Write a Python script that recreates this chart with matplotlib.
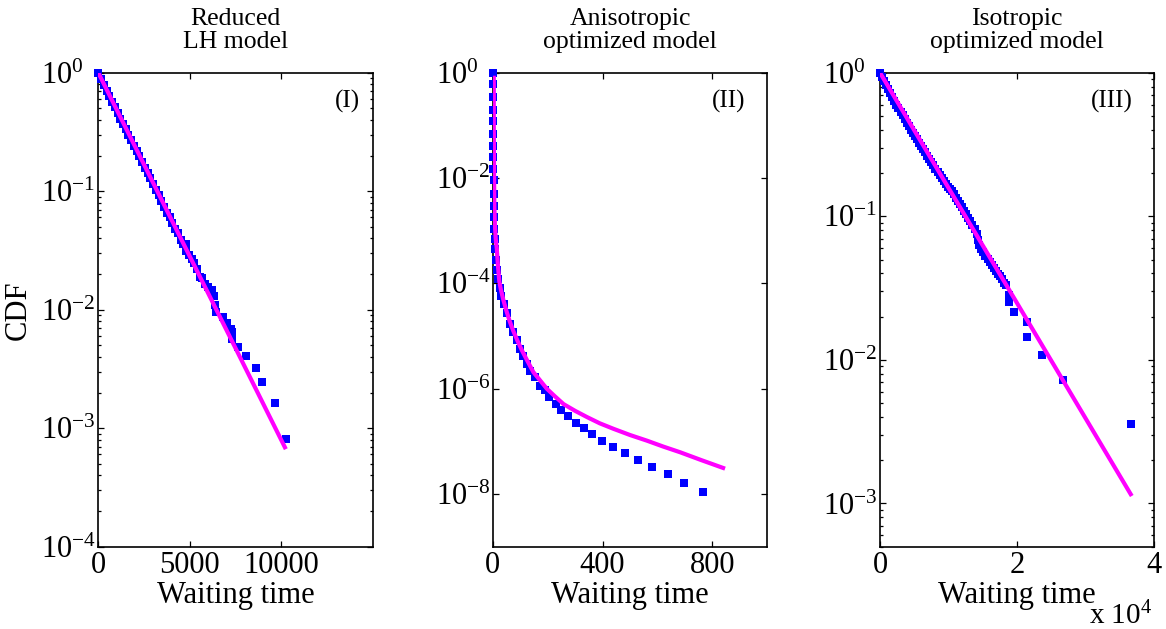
import matplotlib
matplotlib.use("Agg")
import matplotlib.pyplot as plt
from matplotlib.ticker import LogLocator, NullLocator

plt.rcParams["font.family"] = "Liberation Serif"
plt.rcParams["mathtext.fontset"] = "custom"
plt.rcParams["mathtext.rm"] = "Liberation Serif"
plt.rcParams["mathtext.it"] = "Liberation Serif:italic"
plt.rcParams["mathtext.bf"] = "Liberation Serif:bold"

BLUE = "#0000FF"
MAGENTA = "#FF00FF"

# (I) reduced LH model
lh_wait = [0, 150, 300, 450, 600, 750, 900, 1050, 1200, 1350, 1500, 1650, 1800,
           1950, 2100, 2250, 2400, 2550, 2700, 2850, 3000, 3150, 3300, 3450, 3600,
           3750, 3900, 4050, 4200, 4350, 4500, 4650, 4800, 4800, 4950, 5100, 5250,
           5400, 5550, 5650, 5830, 6000, 6200, 6330, 6380, 6450, 6834, 7019, 7240,
           7327, 7327, 7620, 8058, 8622, 8933, 9663, 10262]
lh_cdf = [1.0, 0.88, 0.79, 0.70, 0.63, 0.565, 0.51, 0.455, 0.41, 0.37, 0.335, 0.30,
          0.27, 0.243, 0.22, 0.197, 0.176, 0.158, 0.143, 0.130, 0.116, 0.103, 0.092,
          0.082, 0.074, 0.066, 0.060, 0.054, 0.048, 0.044, 0.039, 0.036, 0.036, 0.031,
          0.029, 0.027, 0.025, 0.022, 0.019, 0.0185, 0.0165, 0.0155, 0.0147, 0.0130,
          0.0110, 0.0096, 0.0087, 0.0077, 0.0069, 0.0065, 0.0057, 0.00487, 0.00404,
          0.00324, 0.00244, 0.00162, 0.000805]
lh_fit_wait = [0, 10200]
lh_fit_cdf = [1.0, 6.9e-4]

# (II) anisotropic optimized model
an_wait = [1, 1, 1, 1, 1, 2, 2, 2, 2, 3, 3, 4, 5, 6, 8, 10, 13, 17, 21, 26, 32, 41,
           51, 63, 75, 88, 100, 112, 124, 136, 154, 172, 190, 206, 230, 248, 275, 303,
           331, 363, 399, 438, 480, 528, 580, 637, 698, 766]
an_cdf = [1.0, 0.6, 0.35, 0.2, 0.12, 0.07, 0.04, 0.025, 0.015, 0.009, 0.005, 0.003,
          0.0018, 0.0011, 7e-4, 4.5e-4, 2.8e-4, 1.8e-4, 1.2e-4, 8e-5, 5.8e-5, 4.1e-5,
          2.7e-5, 1.7e-5, 1.2e-5, 8.3e-6, 5.7e-6, 4.1e-6, 2.97e-6, 2.2e-6, 1.66e-6,
          1.15e-6, 9.3e-7, 6.9e-7, 5.2e-7, 3.97e-7, 3.05e-7, 2.28e-7, 1.77e-7,
          1.36e-7, 1.03e-7, 7.9e-8, 6.0e-8, 4.43e-8, 3.31e-8, 2.37e-8, 1.64e-8, 1.11e-8]
an_fit_wait = [4, 4, 5, 6, 8, 11, 15, 19, 24, 30, 39, 50, 62, 75, 90, 106, 126, 148,
               172, 197, 226, 258, 300, 343, 390, 440, 500, 562, 620, 683, 760, 839]
an_fit_cdf = [0.8, 0.1, 0.01, 3e-3, 1.3e-3, 7e-4, 4.5e-4, 2.2e-4, 1.1e-4, 7.5e-5,
              4.8e-5, 3.0e-5, 1.9e-5, 1.25e-5, 8.2e-6, 5.4e-6, 3.4e-6, 2.07e-6,
              1.45e-6, 1.0e-6, 7.2e-7, 5.1e-7, 3.8e-7, 2.9e-7, 2.2e-7, 1.73e-7,
              1.32e-7, 1.03e-7, 8.0e-8, 6.2e-8, 4.4e-8, 3.13e-8]

# (III) isotropic optimized model
iso_wait = [0, 300, 600, 900, 1200, 1500, 1800, 2100, 2400, 2700, 3000, 3300, 3600,
            3900, 4200, 4500, 4800, 5100, 5400, 5700, 6000, 6300, 6600, 6900, 7200,
            7500, 7800, 8100, 8400, 8700, 9000, 9300, 9600, 9900, 10200, 10500, 10800,
            11100, 11400, 11700, 12000, 12300, 12600, 12900, 13200, 13500, 13800,
            14100, 14300, 14500, 14800, 15100, 15400, 15700, 16000, 16300, 16600,
            16900, 17200, 17500, 17800, 18100, 18400, 18800, 18830, 19610, 21450,
            21500, 23700, 26670, 36640]
iso_cdf = [1.0, 0.935, 0.875, 0.818, 0.766, 0.721, 0.678, 0.637, 0.600, 0.566, 0.533,
           0.505, 0.474, 0.449, 0.425, 0.402, 0.383, 0.362, 0.344, 0.326, 0.310, 0.293,
           0.279, 0.264, 0.252, 0.239, 0.226, 0.215, 0.205, 0.195, 0.185, 0.176, 0.168,
           0.161, 0.156, 0.149, 0.143, 0.135, 0.128, 0.122, 0.116, 0.109, 0.103, 0.098,
           0.0925, 0.0865, 0.0818, 0.0757, 0.068, 0.0627, 0.0593, 0.0561, 0.0531,
           0.0508, 0.0481, 0.046, 0.0436, 0.0417, 0.0399, 0.0381, 0.0365, 0.0345,
           0.0334, 0.0283, 0.0252, 0.0216, 0.0183, 0.0144, 0.0109, 0.0072, 0.0036]
iso_fit_wait = [0, 36600]
iso_fit_cdf = [1.0, 1.16e-3]

titles = ["Reduced\nLH model", "Anisotropic\noptimized model", "Isotropic\noptimized model"]
tags = ["(I)", "(II)", "(III)"]

W, H = 1166, 629
fig = plt.figure(figsize=(W / 100, H / 100), dpi=100)

boxes = [(98.3, 372.7), (492.7, 767.3), (880, 1154)]
top_px, bot_px = 72.7, 546.7


def make_ax(x0, x1):
    ax = fig.add_axes([x0 / W, 1 - bot_px / H, (x1 - x0) / W, (bot_px - top_px) / H])
    ax.set_yscale("log")
    return ax


def style(ax, title, tag, tag_x):
    for s in ax.spines.values():
        s.set_linewidth(1.2)
    ax.tick_params(which="both", direction="in", top=True, right=True, width=0.9)
    ax.tick_params(which="major", length=4, labelsize=22)
    ax.tick_params(which="minor", length=2.5)
    ax.tick_params(axis="y", pad=41)
    ax.tick_params(axis="x", pad=3)
    for lab in ax.get_yticklabels():
        lab.set_horizontalalignment("left")
    ax.annotate(title, xy=(0.5, 1.0), xycoords="axes fraction", xytext=(0, 14),
                textcoords="offset points", ha="center", va="bottom", fontsize=18.5,
                linespacing=1.05)
    ax.text(tag_x, 0.939, tag, transform=ax.transAxes, ha="right", va="center",
            fontsize=18)
    ax.set_xlabel("Waiting time", fontsize=22)
    ax.xaxis.set_label_coords(0.5, -0.073)


series = [
    (lh_wait, lh_cdf, lh_fit_wait, lh_fit_cdf),
    (an_wait, an_cdf, an_fit_wait, an_fit_cdf),
    (iso_wait, iso_cdf, iso_fit_wait, iso_fit_cdf),
]
axes = []
for (x0, x1), (wx, wy, fx, fy) in zip(boxes, series):
    ax = make_ax(x0, x1)
    ax.plot(wx, wy, "s", color=BLUE, markersize=5.8, markeredgewidth=0,
            clip_on=False, zorder=3)
    ax.plot(fx, fy, "-", color=MAGENTA, linewidth=3, zorder=4)
    axes.append(ax)

ax1, ax2, ax3 = axes

ax1.set_xlim(0, 15000)
ax1.set_ylim(1e-4, 1)
ax1.set_xticks([0, 5000, 10000])
ax1.set_yticks([1e-4, 1e-3, 1e-2, 1e-1, 1])
ax1.yaxis.set_minor_locator(LogLocator(base=10, subs=range(2, 10)))

ax2.set_xlim(0, 1000)
ax2.set_ylim(1e-9, 1)
ax2.set_xticks([0, 400, 800])
ax2.set_yticks([1e-8, 1e-6, 1e-4, 1e-2, 1])
ax2.yaxis.set_minor_locator(NullLocator())

ax3.set_xlim(0, 40000)
ax3.set_ylim(5e-4, 1)
ax3.set_xticks([0, 20000, 40000])
ax3.set_xticklabels(["0", "2", "4"])
ax3.set_yticks([1e-3, 1e-2, 1e-1, 1])
ax3.yaxis.set_minor_locator(LogLocator(base=10, subs=range(2, 10)))

tag_pos = [0.954, 0.919, 0.923]
for ax, t, tag, tx in zip(axes, titles, tags, tag_pos):
    style(ax, t, tag, tx)

fig.text(18 / W, 1 - 310 / H, "CDF", rotation=90, ha="center", va="center", fontsize=22)
fig.text(1089 / W, 1 - 624 / H, "x 10$^{4}$", ha="left", va="baseline", fontsize=21)

fig.savefig("out.png", dpi=100)
